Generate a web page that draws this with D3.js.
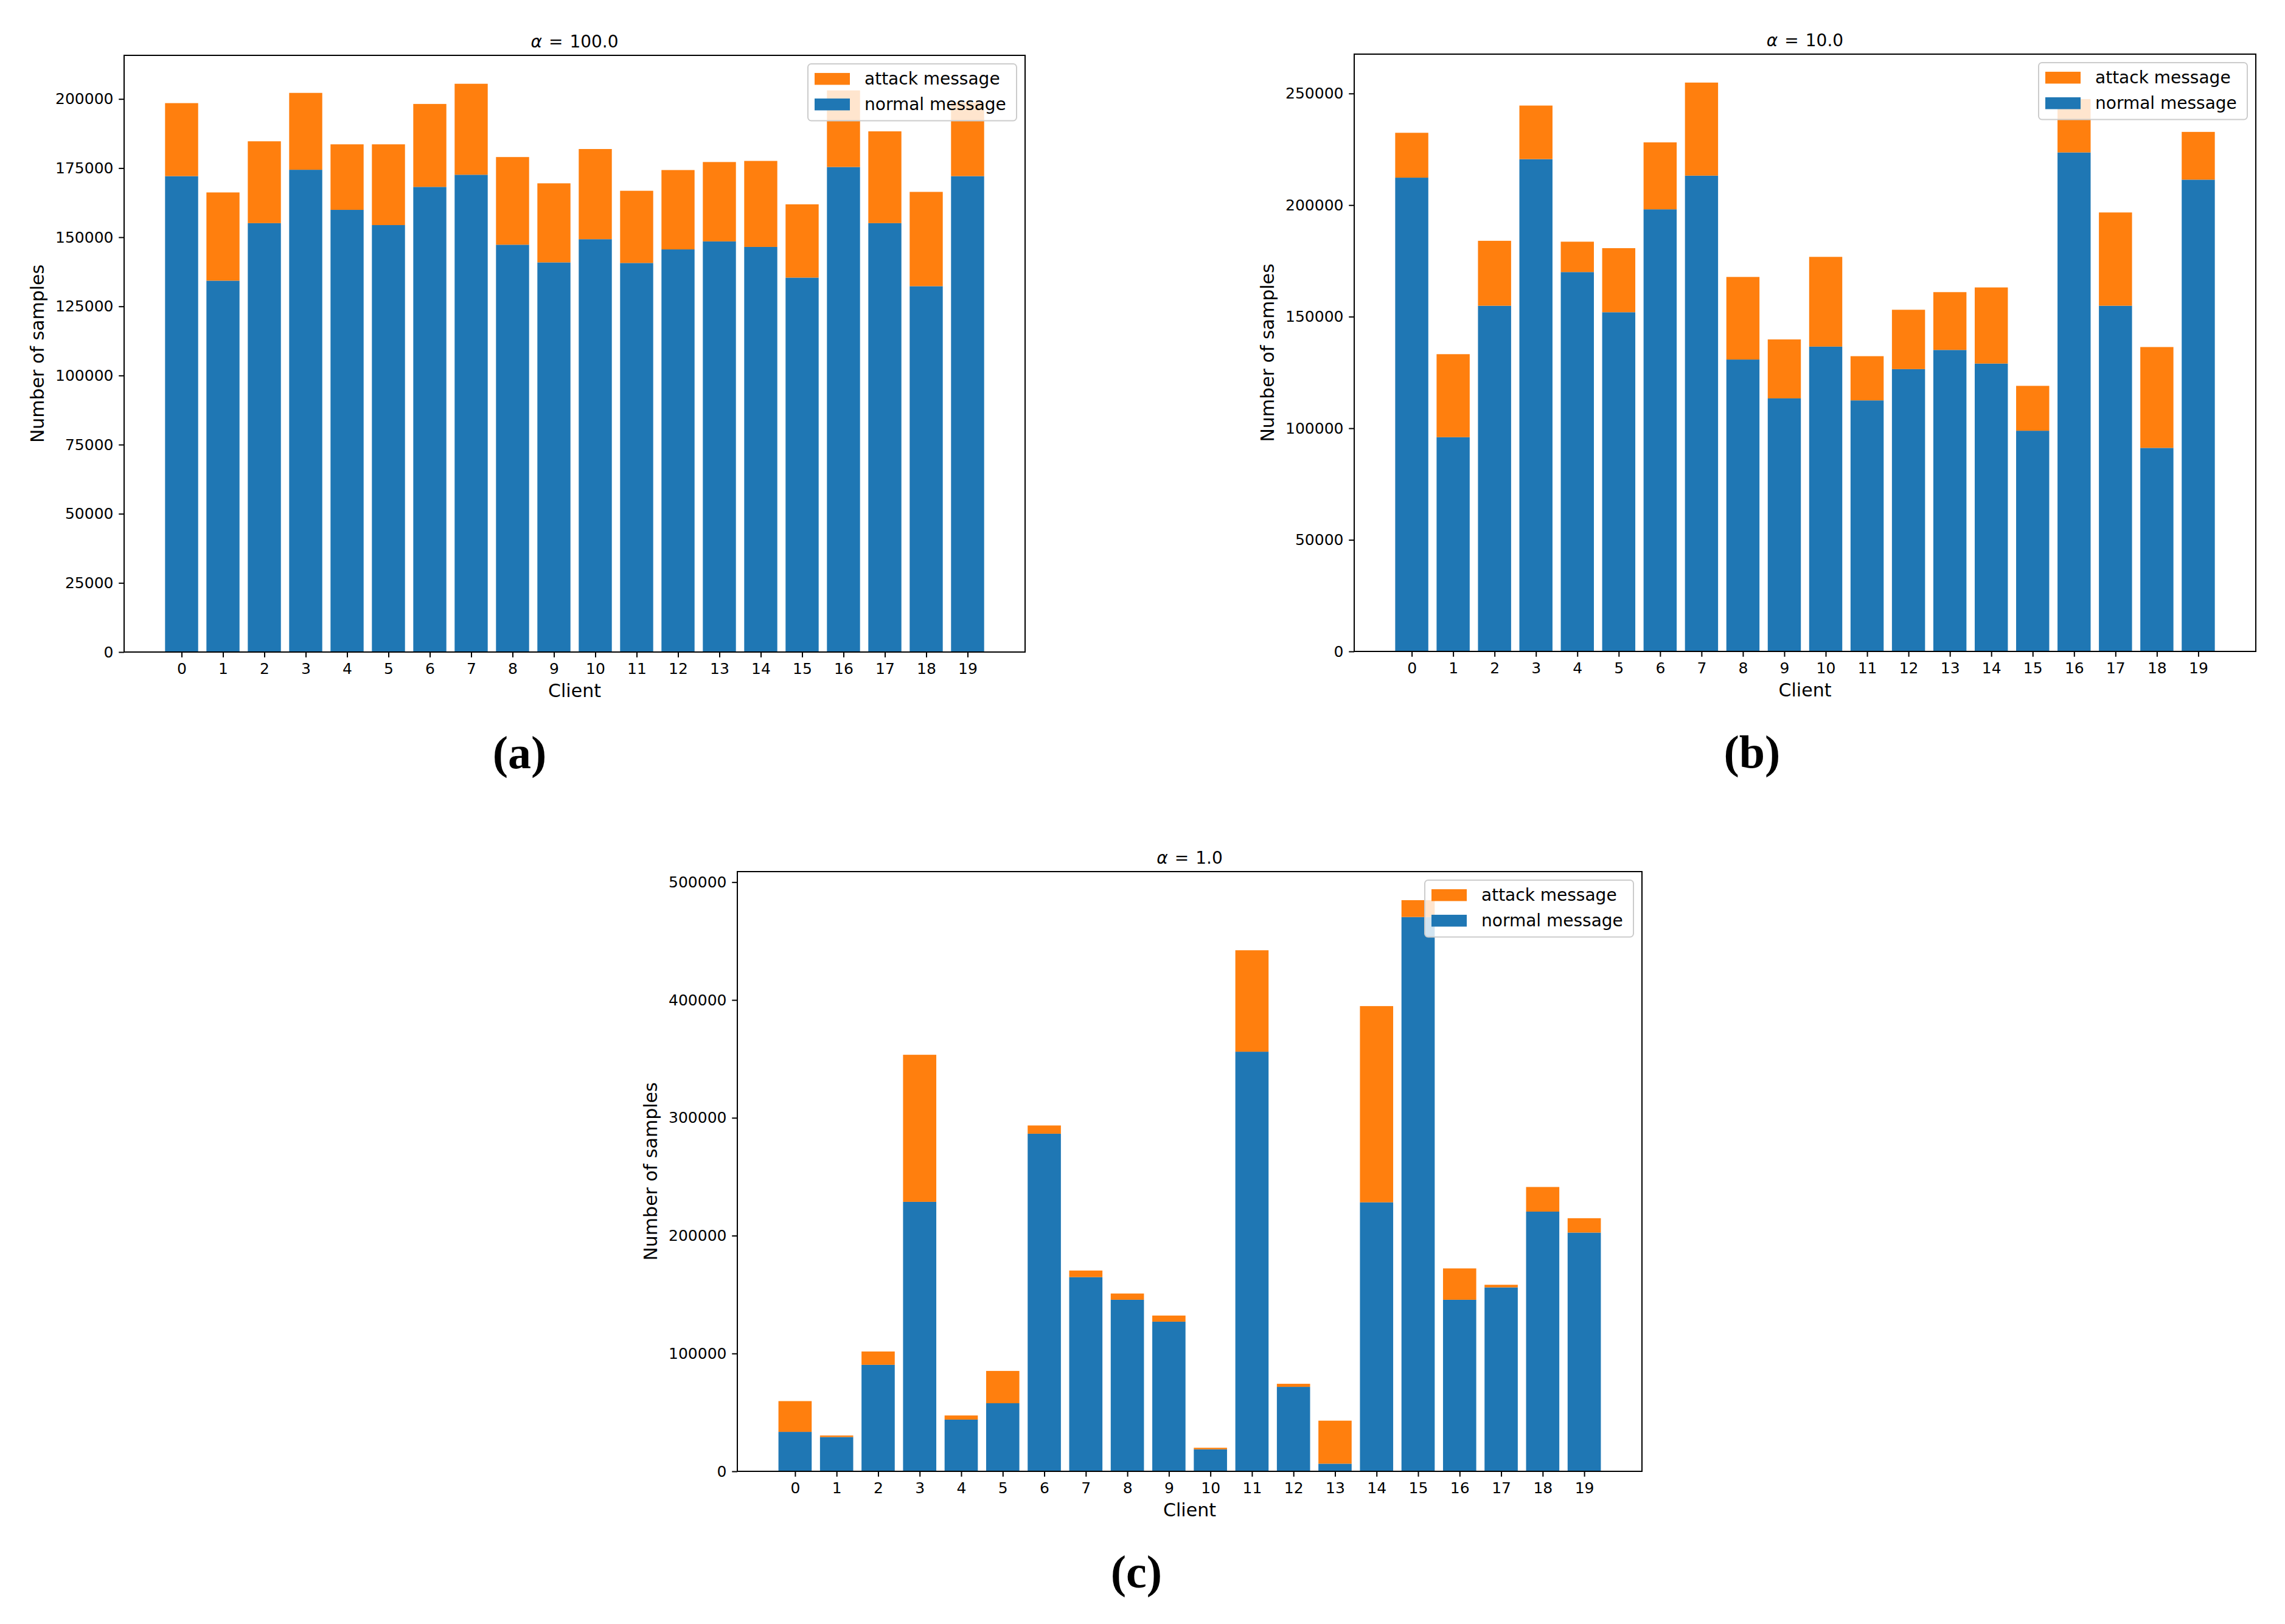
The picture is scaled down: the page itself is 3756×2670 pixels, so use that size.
<!DOCTYPE html>
<html><head><meta charset="utf-8">
<script src="https://cdn.jsdelivr.net/npm/d3@7"></script>
<style>html,body{margin:0;padding:0;background:#fff;} svg{display:block;}</style>
</head><body>
<script>
// ---------- data ----------
const clients = ["0","1","2","3","4","5","6","7","8","9","10","11","12","13","14","15","16","17","18","19"];

const normalA = [172100,134300,155100,174400,159900,154400,168200,172600,147300,140900,149300,140700,145600,148500,146500,135400,175400,155100,132300,172100];
const attackA = [26400,31900,29600,27800,23700,29200,30000,32900,31700,28600,32600,26100,28700,28700,31100,26500,27700,33200,34100,26600];

const normalB = [212300,96000,154900,220600,170000,152000,198100,213200,130800,113400,136600,112500,126500,135100,129000,98900,223600,154900,91200,211400];
const attackB = [20100,37200,29100,24000,13600,28700,30000,41700,37000,26400,40200,19800,26600,25900,34100,20100,23900,41800,45200,21400];

const normalC = [33500,29100,90400,228700,43900,57800,286500,164800,145600,127000,18700,356100,71700,6500,228300,470400,145600,156100,220400,202600];
const attackC = [26100,1300,11300,124800,3500,27400,7000,5600,5300,5200,1300,86100,2600,36500,166500,14300,26600,2200,20900,12200];

const yTicksA = [0,25000,50000,75000,100000,125000,150000,175000,200000];
const yTicksB = [0,50000,100000,150000,200000,250000];
const yTicksC = [0,100000,200000,300000,400000,500000];

const alphas = ["100.0","10.0","1.0"];
const captions = ["(a)","(b)","(c)"];
const legendLabels = ["attack message","normal message"];
const xLabel = "Client";
const yLabel = "Number of samples";

// ---------- style / layout ----------
const COLOR_NORMAL = "#1f77b4";
const COLOR_ATTACK = "#ff7f0e";
const FONT = "'DejaVu Sans', sans-serif";

const panels = [
  {x0:204, x1:1685, y0:91,   y1:1072, normal:normalA, attack:attackA, ticks:yTicksA, alpha:alphas[0], caption:captions[0], capX:854},
  {x0:2226,x1:3708, y0:89,   y1:1071, normal:normalB, attack:attackB, ticks:yTicksB, alpha:alphas[1], caption:captions[1], capX:2880},
  {x0:1212,x1:2699, y0:1433, y1:2419, normal:normalC, attack:attackC, ticks:yTicksC, alpha:alphas[2], caption:captions[2], capX:1868}
];

const W = 3756, H = 2670;
const svg = d3.select("body").append("svg")
  .attr("width", W).attr("height", H)
  .attr("viewBox", `0 0 ${W} ${H}`);
svg.append("rect").attr("width", W).attr("height", H).attr("fill", "#fff");

function drawPanel(p) {
  const g = svg.append("g");
  const n = clients.length;
  const span = (n - 1) + 0.8;
  const x = d3.scaleLinear()
    .domain([-0.4 - 0.05 * span, (n - 1) + 0.4 + 0.05 * span])
    .range([p.x0, p.x1]);
  const totals = p.normal.map((v, i) => v + p.attack[i]);
  const y = d3.scaleLinear()
    .domain([0, d3.max(totals) * 1.05])
    .range([p.y1, p.y0]);
  const bw = x(0.8) - x(0);

  const rows = clients.map((c, i) => ({i, normal: p.normal[i], attack: p.attack[i]}));

  // normal (bottom)
  g.append("g").selectAll("rect").data(rows).join("rect")
    .attr("x", d => x(d.i) - bw / 2)
    .attr("width", bw)
    .attr("y", d => y(d.normal))
    .attr("height", d => y(0) - y(d.normal))
    .attr("fill", COLOR_NORMAL);
  // attack (stacked)
  g.append("g").selectAll("rect").data(rows).join("rect")
    .attr("x", d => x(d.i) - bw / 2)
    .attr("width", bw)
    .attr("y", d => y(d.normal + d.attack))
    .attr("height", d => y(d.normal) - y(d.normal + d.attack))
    .attr("fill", COLOR_ATTACK);

  // axes
  const xAxis = d3.axisBottom(x)
    .tickValues(clients.map((c, i) => i))
    .tickFormat(i => clients[i])
    .tickSize(8.75).tickPadding(9.2);
  const gx = g.append("g").attr("transform", `translate(0,${p.y1})`).call(xAxis);
  const yAxis = d3.axisLeft(y)
    .tickValues(p.ticks)
    .tickFormat(d3.format("d"))
    .tickSize(8.75).tickPadding(8.75);
  const gy = g.append("g").attr("transform", `translate(${p.x0},0)`).call(yAxis);
  [gx, gy].forEach(a => {
    a.attr("font-family", FONT).attr("font-size", 25);
    a.select(".domain").remove();
    a.selectAll(".tick line").attr("stroke", "#000").attr("stroke-width", 2);
    a.selectAll(".tick text").attr("fill", "#000");
  });

  // frame (spines)
  g.append("rect")
    .attr("x", p.x0).attr("y", p.y0)
    .attr("width", p.x1 - p.x0).attr("height", p.y1 - p.y0)
    .attr("fill", "none").attr("stroke", "#000").attr("stroke-width", 2);

  // title
  const t = g.append("text")
    .attr("x", (p.x0 + p.x1) / 2).attr("y", p.y0 - 13.3)
    .attr("text-anchor", "middle")
    .attr("font-family", FONT).attr("font-size", 28)
    .attr("fill", "#000");
  t.append("tspan").attr("font-style", "italic").text("α");
  t.append("tspan").attr("dx", 11).text("=");
  t.append("tspan").attr("dx", 11).text(p.alpha);

  // x label
  g.append("text")
    .attr("x", (p.x0 + p.x1) / 2).attr("y", p.y1 + 73.5)
    .attr("text-anchor", "middle")
    .attr("font-family", FONT).attr("font-size", 30)
    .attr("fill", "#000").text(xLabel);

  // y label
  g.append("text")
    .attr("transform", `translate(${p.x0 - 143},${(p.y0 + p.y1) / 2}) rotate(-90)`)
    .attr("text-anchor", "middle")
    .attr("dominant-baseline", "central")
    .attr("font-family", FONT).attr("font-size", 30)
    .attr("fill", "#000").text(yLabel);

  // legend
  const lw = 343, lh = 93.5;
  const lx = p.x1 - 14 - lw, ly = p.y0 + 14;
  const lg = g.append("g");
  lg.append("rect")
    .attr("x", lx).attr("y", ly).attr("width", lw).attr("height", lh)
    .attr("rx", 5.5).attr("ry", 5.5)
    .attr("fill", "#fff").attr("fill-opacity", 0.8)
    .attr("stroke", "#cccccc").attr("stroke-width", 2);
  const items = [
    {label: legendLabels[0], color: COLOR_ATTACK},
    {label: legendLabels[1], color: COLOR_NORMAL}
  ];
  items.forEach((it, k) => {
    const cy = ly + 24.7 + k * 42;
    lg.append("rect")
      .attr("x", lx + 11).attr("y", cy - 9.75)
      .attr("width", 58).attr("height", 19.5)
      .attr("fill", it.color);
    lg.append("text")
      .attr("x", lx + 93).attr("y", cy + 9.5)
      .attr("font-family", FONT).attr("font-size", 28)
      .attr("fill", "#000").text(it.label);
  });

  // caption
  svg.append("text")
    .attr("x", p.capX).attr("y", p.y1 + 191)
    .attr("text-anchor", "middle")
    .attr("font-family", "'Liberation Serif', 'DejaVu Serif', serif")
    .attr("font-weight", "bold")
    .attr("font-size", 76)
    .attr("fill", "#000").text(p.caption);
}

panels.forEach(drawPanel);
</script>
</body></html>
